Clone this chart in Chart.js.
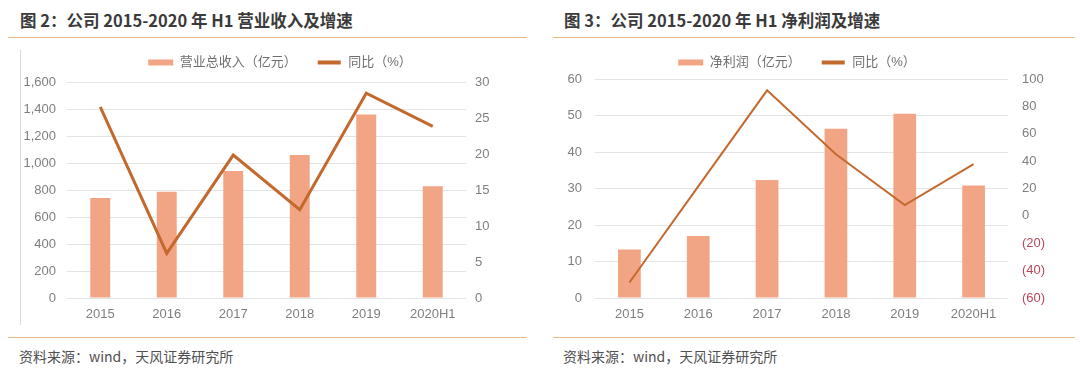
<!DOCTYPE html>
<html>
<head>
    <meta charset="UTF-8">
    <title>营业收入及净利润</title>
    <script src="https://cdn.jsdelivr.net/npm/chart.js"></script>
    <style>
        body { margin: 0; background: #fff; width: 1080px; height: 371px; position: relative; overflow: hidden;
               font-family: 'Noto Sans CJK SC', sans-serif; }
        .title { position: absolute; top: 8px; font-size: 16.5px; font-weight: bold; color: #3b3b3b; white-space: nowrap; }
        .rule { position: absolute; height: 0; border-top: 1.5px solid #e6b88a; }
        .source { position: absolute; top: 346px; font-size: 14px; color: #505050; white-space: nowrap; }
        .frame { position: absolute; left: 20px; top: 50px; height: 275px; border-left: 1px solid #d9d9d9; }
        .box { position: absolute; top: 36px; height: 292px; }
    </style>
</head>

<body>
    <div class="title" style="left: 20px;">图 2：公司 2015-2020 年 H1 营业收入及增速</div>
    <div class="rule" style="left: 8px; width: 519px; top: 37px;"></div>
    <div class="frame"></div>
    <div class="box" style="left: 0px; width: 540px;"><canvas id="revChart"></canvas></div>
    <div class="rule" style="left: 8px; width: 519px; top: 337px;"></div>
    <div class="source" style="left: 19px;">资料来源：wind，天风证券研究所</div>

    <div class="title" style="left: 564px;">图 3：公司 2015-2020 年 H1 净利润及增速</div>
    <div class="rule" style="left: 553px; width: 522px; top: 37px;"></div>
    <div class="box" style="left: 539px; width: 530px;"><canvas id="profitChart"></canvas></div>
    <div class="rule" style="left: 553px; width: 522px; top: 337px;"></div>
    <div class="source" style="left: 563px;">资料来源：wind，天风证券研究所</div>

    <script>
        // data
        const years = ['2015', '2016', '2017', '2018', '2019', '2020H1'];

        const revenue = [743, 788, 942, 1062, 1362, 829];      // 营业总收入（亿元）
        const revenueYoY = [26.6, 6.2, 19.9, 12.3, 28.5, 23.9]; // 同比（%）

        const netProfit = [13.3, 17.0, 32.3, 46.4, 50.5, 30.8]; // 净利润（亿元）
        const profitYoY = [-48.7, 21.5, 91.7, 45.0, 7.9, 37.8]; // 同比（%）

        const barColor = '#f1a585';
        const lineColor = '#c4692e';
        const tickColor = '#7f7f7f';
        const negColor = '#b8475a';
        const gridColor = '#e4e4e4';
        const fontFamily = "'Liberation Sans', 'Noto Sans CJK SC', sans-serif";

        Chart.defaults.font.family = fontFamily;
        Chart.defaults.font.size = 13;
        Chart.defaults.color = tickColor;

        function legendLabels(chart) {
            const items = Chart.defaults.plugins.legend.labels.generateLabels(chart);
            items.forEach(it => {
                const ds = chart.data.datasets[it.datasetIndex];
                if (ds.type === 'line') {
                    // thin line swatch
                    it.fillStyle = lineColor;
                    it.strokeStyle = '#ffffff';
                    it.lineWidth = 2;
                } else {
                    it.lineWidth = 0;
                }
            });
            return items;
        }

        function makeChart(id, opt) {
            const ctx = document.getElementById(id).getContext('2d');
            return new Chart(ctx, {
                data: {
                    labels: years,
                    datasets: [
                        {
                            type: 'bar',
                            label: opt.barLabel,
                            data: opt.bars,
                            backgroundColor: barColor,
                            borderWidth: 0,
                            categoryPercentage: 1,
                            barPercentage: opt.barPct,
                            yAxisID: 'y',
                            order: 2
                        },
                        {
                            type: 'line',
                            label: '同比（%）',
                            data: opt.line,
                            borderColor: lineColor,
                            backgroundColor: lineColor,
                            borderWidth: opt.lineWidth,
                            pointRadius: 0,
                            tension: 0,
                            yAxisID: 'y1',
                            order: 1
                        }
                    ]
                },
                options: {
                    responsive: true,
                    maintainAspectRatio: false,
                    animation: false,
                    layout: { padding: { top: 0, left: opt.padLeft, right: opt.padRight, bottom: 0 } },
                    plugins: {
                        legend: {
                            position: 'top',
                            labels: {
                                boxWidth: 25,
                                boxHeight: 6,
                                padding: 20,
                                color: '#6f6f6f',
                                font: { size: 13 },
                                sort: (a, b) => a.datasetIndex - b.datasetIndex,
                                generateLabels: legendLabels
                            }
                        },
                        subtitle: {
                            display: opt.spacer > 0,
                            text: '',
                            weight: 500,
                            font: { size: 1, lineHeight: 1 },
                            padding: { top: opt.spacer / 2, bottom: opt.spacer / 2 - 0.5 }
                        },
                        tooltip: { enabled: false }
                    },
                    scales: {
                        x: {
                            grid: { display: false, drawTicks: false },
                            border: { display: false },
                            ticks: { padding: 9, color: tickColor, font: { size: 13 } },
                            afterFit: s => { s.height = 30; }
                        },
                        y: {
                            position: 'left',
                            min: opt.yMin, max: opt.yMax,
                            grid: { color: gridColor, drawTicks: false },
                            border: { display: false },
                            ticks: {
                                stepSize: opt.yStep,
                                padding: opt.leftPad,
                                color: tickColor,
                                callback: v => v.toLocaleString('en-US')
                            },
                            afterFit: s => { s.width = opt.leftW; }
                        },
                        y1: {
                            position: 'right',
                            min: opt.y1Min, max: opt.y1Max,
                            grid: { display: false, drawTicks: false },
                            border: { display: false },
                            ticks: {
                                stepSize: opt.y1Step,
                                padding: opt.rightPad,
                                color: c => (c.tick && c.tick.value < 0) ? negColor : tickColor,
                                callback: v => v < 0 ? '(' + Math.abs(v) + ')' : String(v)
                            },
                            afterFit: s => { s.width = opt.rightW; }
                        }
                    }
                }
            });
        }

        makeChart('revChart', {
            barLabel: '营业总收入（亿元）',
            bars: revenue, line: revenueYoY,
            barPct: 0.30, lineWidth: 3,
            yMin: 0, yMax: 1600, yStep: 200,
            y1Min: 0, y1Max: 30, y1Step: 5,
            leftW: 46, rightW: 73, leftPad: 11, rightPad: 9,
            padLeft: 21, padRight: 1, spacer: 3
        });

        makeChart('profitChart', {
            barLabel: '净利润（亿元）',
            bars: netProfit, line: profitYoY,
            barPct: 0.33, lineWidth: 2,
            yMin: 0, yMax: 60, yStep: 10,
            y1Min: -60, y1Max: 100, y1Step: 20,
            leftW: 56, rightW: 47, leftPad: 13, rightPad: 14,
            padLeft: 0, padRight: 14, spacer: 0
        });
    </script>
</body>
</html>
